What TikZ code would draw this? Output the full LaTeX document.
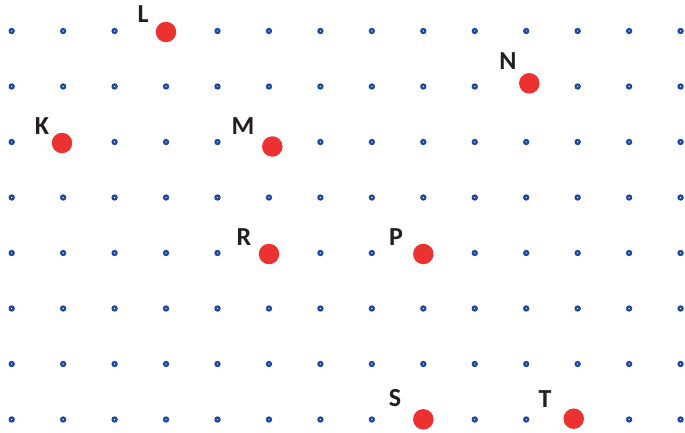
\documentclass[tikz,border=0pt]{standalone}
\usepackage{fontspec}
\setmainfont{Carlito}
\usepackage{xcolor}
\usetikzlibrary{positioning}
\definecolor{gridblue}{RGB}{30,72,160}
\definecolor{ptred}{RGB}{236,50,48}
\definecolor{lblgray}{RGB}{35,31,32}

\begin{document}
\begin{tikzpicture}[x=1pt, y=-1pt,
  griddot/.style={circle, fill=gridblue, inner sep=0pt, minimum size=6.4pt},
  gridhole/.style={circle, fill=white, inner sep=0pt, minimum size=1.4pt},
  pt/.style={circle, fill=ptred, inner sep=0pt, minimum size=20.5pt},
  lbl/.style={font=\fontsize{26}{26}\selectfont\bfseries, text=lblgray, inner sep=0pt}]
\useasboundingbox (0,0) rectangle (685,432);
% grid of small dots
\foreach \i in {0,...,13}
  \foreach \j in {0,...,7} {
    \node[griddot] (g-\i-\j) at ({11.7+51.45*\i},{31+55.5*\j}) {};
    \node[gridhole] at (g-\i-\j) {};
  }
% marked points
\node[pt] (L) at (166,32) {};
\node[pt] (N) at (529.3,83.3) {};
\node[pt] (K) at (62,143) {};
\node[pt] (M) at (272.3,146.5) {};
\node[pt] (R) at (269,254) {};
\node[pt] (P) at (423.3,254) {};
\node[pt] (S) at (423.3,419.3) {};
\node[pt] (T) at (573.7,418.7) {};
% letters
\node[lbl] (lL) at (143,14) {L};
\node[lbl] (lN) at (508,61) {N};
\node[lbl] (lK) at (42,126) {K};
\node[lbl] (lM) at (243,126) {M};
\node[lbl] (lR) at (244,237) {R};
\node[lbl] (lP) at (396,237) {P};
\node[lbl] (lS) at (395,398) {S};
\node[lbl] (lT) at (545,399) {T};
\end{tikzpicture}
\end{document}
